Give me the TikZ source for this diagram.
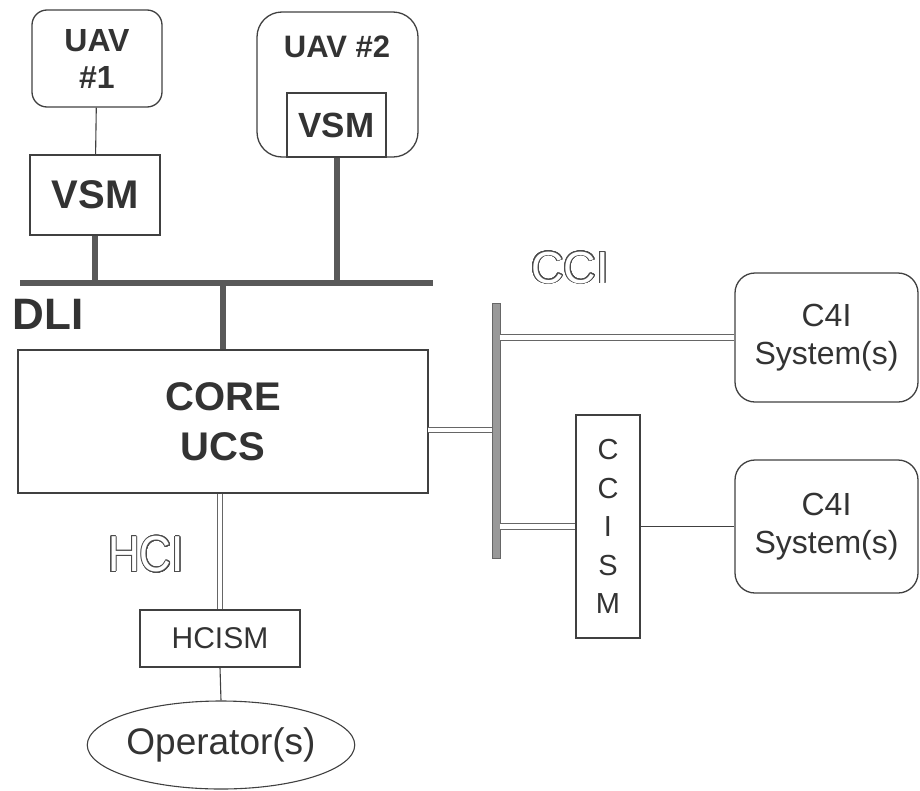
\documentclass[tikz,border=0pt]{standalone}
\usepackage{fontspec}
\setmainfont{Liberation Sans}
\usepackage[copies]{contour}
\usepackage{tikz}
\usetikzlibrary{positioning, shapes.geometric, calc}

\contourlength{0.9pt}
\contournumber{32}
\newcommand{\hollowtext}[1]{\contour{black!70}{\textcolor{white}{#1}}}

\begin{document}
\begin{tikzpicture}[x=1pt, y=-1pt,
    box/.style={draw=black!75, line width=1.3pt, rectangle, inner sep=0pt, align=center, text=black!80},
    roundbox/.style={box, rounded corners=#1},
    bus/.style={draw=black!65, line width=6pt},
    pipe/.style={draw=black!60, line width=0.8pt, double=white, double distance=4.5pt},
    thin/.style={draw=black!75, line width=1.1pt}]
    \useasboundingbox (0,0) rectangle (920,790);

    % vehicles and their VSMs
    \node[roundbox=15pt, minimum width=130pt, minimum height=97pt, font=\fontsize{32}{37}\selectfont\bfseries] (uav1) at (97,58.5) {UAV\\\#1};
    \node[box, minimum width=130pt, minimum height=80pt, font=\fontsize{40}{44}\selectfont\bfseries] (vsm1) at (95,195) {VSM};
    \node[roundbox=25pt, minimum width=161pt, minimum height=145pt] (uav2) at (337.5,84.5) {};
    \node[text=black!80, font=\fontsize{31}{36}\selectfont\bfseries] (uav2txt) at (337,47) {UAV \#2};
    \node[box, minimum width=99pt, minimum height=64pt, font=\fontsize{35}{40}\selectfont\bfseries] (vsm2) at (336.5,125) {VSM};
    \draw[thin] (uav1) -- (vsm1);

    % DLI bus
    \coordinate (busL) at (20,283);
    \coordinate (busR) at (433,283);
    \node[box, minimum width=410pt, minimum height=143pt, font=\fontsize{40}{50}\selectfont\bfseries] (core) at (223,421.5) {CORE\\UCS};
    \draw[bus] (busL) -- (busR);
    \draw[bus] (vsm1.south) -- (vsm1.south |- busL);
    \draw[bus] (vsm2.south) -- (vsm2.south |- busL);
    \draw[bus] (core.north) -- (core.north |- busL);
    \node[text=black!80, font=\fontsize{44}{48}\selectfont\bfseries] (dli) at (48,314) {DLI};

    % HCI side
    \node[box, minimum width=160pt, minimum height=57pt, font=\fontsize{30}{34}\selectfont] (hcism) at (220,638.5) {HCISM};
    \node[ellipse, draw=black!75, line width=1.1pt, minimum width=232pt, minimum height=88pt, inner sep=0pt, text=black!80, font=\fontsize{37}{40}\selectfont] (op) at (221,745) {Operator(s)};
    \draw[pipe] (hcism.north |- core.south) -- (hcism.north);
    \draw[thin] (hcism.south) -- (op.north);
    \node[font=\fontsize{44}{50}\selectfont, yscale=1.15, transform shape] (hci) at (146,555) {\hollowtext{HCI}};

    % CCI side
    \node[roundbox=20pt, minimum width=183pt, minimum height=129pt, font=\fontsize{32}{38}\selectfont] (c4ia) at (826.5,337.5) {C4I\\System(s)};
    \node[roundbox=20pt, minimum width=183pt, minimum height=133pt, font=\fontsize{32}{38}\selectfont] (c4ib) at (826.5,526.5) {C4I\\System(s)};
    \node[box, minimum width=64pt, minimum height=223pt, font=\fontsize{29}{38.5}\selectfont] (ccism) at (608,526.5) {C\\C\\I\\S\\M};
    \coordinate (cciin) at (428,430);
    \node[rectangle, draw=black!60, fill=black!40, line width=0.6pt, minimum width=8pt, minimum height=255pt, inner sep=0pt] (ccibar) at (496,430.5) {};
    \draw[pipe] (cciin) -- (ccibar.west |- cciin);
    \draw[pipe] (ccibar.east |- c4ia.west) -- (c4ia.west);
    \draw[pipe] (ccibar.east |- ccism.west) -- (ccism.west);
    \draw[thin] (ccism.east) -- (c4ib.west);
    \node[font=\fontsize{45}{50}\selectfont] (cci) at (570,268) {\hollowtext{CCI}};
\end{tikzpicture}
\end{document}
